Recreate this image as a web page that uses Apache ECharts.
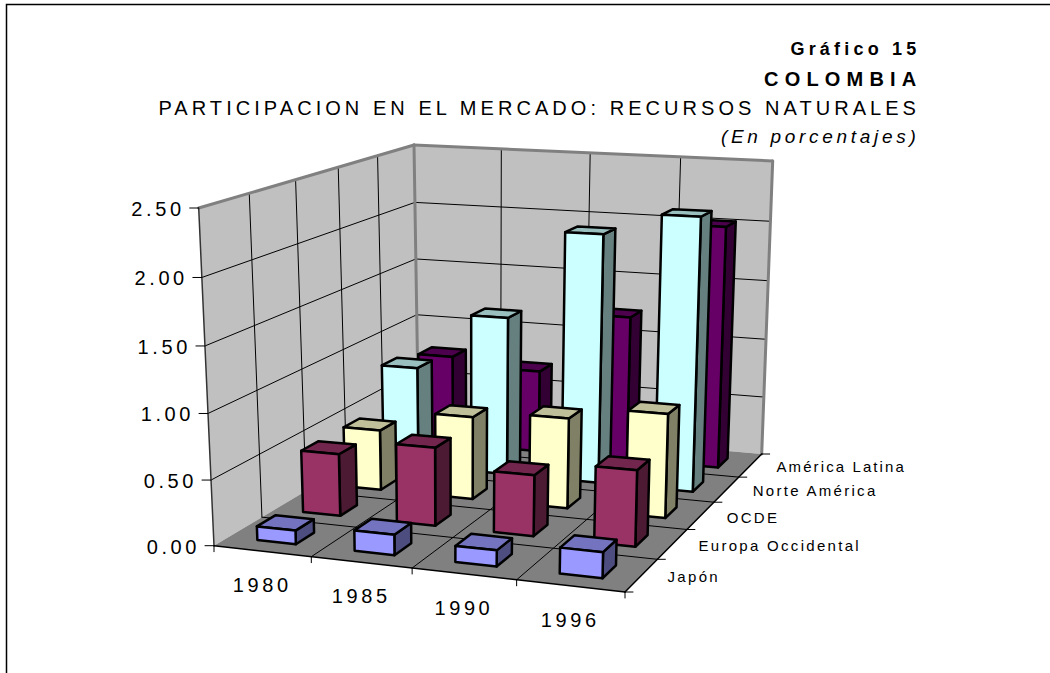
<!DOCTYPE html>
<html><head><meta charset="utf-8">
<style>html,body{margin:0;padding:0;background:#fff}#c{width:1050px;height:673px}</style>
<script src="https://cdn.jsdelivr.net/npm/echarts@6/dist/echarts.min.js"></script>
</head><body><div id="c"></div>
<script>
const categories = ['1980','1985','1990','1996'];
const depthLabels = ['Japón','Europa Occidental','OCDE','Norte América','América Latina'];
const valueTicks = [0,0.5,1,1.5,2,2.5];
const japon  = [0.105,0.155,0.12,0.19];
const europa = [0.49,0.61,0.47,0.58];
const ocde   = [0.49,0.665,0.72,0.82];
const norte  = [0.835,1.31,2.035,2.215];
const latina = [0.77,0.70,1.22,2.02];
const seriesValues = [japon,europa,ocde,norte,latina];
const seriesColors = ['#9999FF','#993366','#FFFFCC','#CCFFFF','#660066'];
const titleLines = ['Gráfico 15','COLOMBIA','PARTICIPACION EN EL MERCADO: RECURSOS NATURALES','(En porcentajes)'];

// Perspective of the 3D box: corners of floor and ceiling on screen
const floorQuad = [[214,545.7],[625,592],[761.7,454],[418.5,424]];
const topQuad   = [[198.7,208],[633,230.6],[772.7,161],[414,145]];
const K = 1.036, BAR = 0.4;
function homog(q){
  const [p0,p1,p2,p3]=q;
  const dx1=p1[0]-p2[0],dx2=p3[0]-p2[0],dx3=p0[0]-p1[0]+p2[0]-p3[0];
  const dy1=p1[1]-p2[1],dy2=p3[1]-p2[1],dy3=p0[1]-p1[1]+p2[1]-p3[1];
  const den=dx1*dy2-dx2*dy1, g=(dx3*dy2-dx2*dy3)/den, h=(dx1*dy3-dx3*dy1)/den;
  const a=p1[0]-p0[0]+g*p1[0], b=p3[0]-p0[0]+h*p3[0], d=p1[1]-p0[1]+g*p1[1], e=p3[1]-p0[1]+h*p3[1];
  return (u,w)=>{const n=g*u+h*w+1;return [(a*u+b*w+p0[0])/n,(d*u+e*w+p0[1])/n];};
}
const F=homog(floorQuad), T=homog(topQuad);
function P(u,w,t){
  const a=F(u,w), b=T(u,w), s=t/(t+(1-t)*K);
  return [a[0]+(b[0]-a[0])*s, a[1]+(b[1]-a[1])*s];
}
function shade(hex,f){
  const n=parseInt(hex.slice(1),16);
  const c=[n>>16,(n>>8)&255,n&255].map(v=>Math.round(v*f));
  return 'rgb('+c.join(',')+')';
}
const poly=(pts,fill,stroke,lw)=>({type:'polygon',shape:{points:pts},style:{fill:fill,stroke:stroke||null,lineWidth:lw||0,lineJoin:'round'}});
const line=(a,b,c,lw)=>({type:'line',shape:{x1:a[0],y1:a[1],x2:b[0],y2:b[1]},style:{stroke:c,lineWidth:lw,lineCap:'round',fill:null}});
const label=(x,y,text,size,align)=>({type:'text',style:{x:x,y:y,text:text,fill:'#000',font:size+'px "Liberation Sans"',align:align,verticalAlign:'middle'}});

// the box, drawn from the hidden axes' scales
function renderBox(params,api){
  const cs=params.coordSys, ch=[];
  const uOf=i=>(api.coord([i,0])[0]-api.size([1,0])[0]/2-cs.x)/cs.width;
  const tOf=v=>(cs.y+cs.height-api.coord([0,v])[1])/cs.height;
  const n=categories.length, m=depthLabels.length;
  ch.push(poly([P(0,0,0),P(0,1,0),P(0,1,1),P(0,0,1)],'#C0C0C0'));
  ch.push(poly([P(0,1,0),P(1,1,0),P(1,1,1),P(0,1,1)],'#C0C0C0'));
  ch.push(poly([P(0,0,0),P(1,0,0),P(1,1,0),P(0,1,0)],'#808080'));
  valueTicks.forEach(v=>{
    const t=tOf(v);
    if(v>0 && v<valueTicks[valueTicks.length-1]){
      ch.push(line(P(0,0,t),P(0,1,t),'#000',1));
      ch.push(line(P(0,1,t),P(1,1,t),'#000',1));
    }
  });
  for(let i=1;i<n;i++){
    const u=uOf(i);
    ch.push(line(P(u,1,0),P(u,1,1),'#000',1));
    ch.push(line(P(u,0,0),P(u,1,0),'#000',1));
  }
  for(let j=1;j<m;j++){
    const w=j/m;
    ch.push(line(P(0,w,0),P(0,w,1),'#000',1));
    ch.push(line(P(0,w,0),P(1,w,0),'#000',1));
  }
  // wall borders
  ch.push(line(P(0,0,1),P(0,1,1),'#808080',3));
  ch.push(line(P(0,1,1),P(1,1,1),'#808080',3));
  ch.push(line(P(0,1,0),P(0,1,1),'#808080',3));
  ch.push(line(P(1,1,0),P(1,1,1),'#808080',3));
  ch.push(line(P(0,0,0),P(0,0,1),'#333',1.5));
  ch.push(line(P(0,0,0),P(1,0,0),'#000',1.5));
  ch.push(line(P(1,0,0),P(1,1,0),'#000',1.5));
  // ticks + labels
  valueTicks.forEach(v=>{
    const p=P(0,0,tOf(v));
    ch.push(line(p,[p[0]-9,p[1]],'#000',1));
    ch.push(label(p[0]-14,p[1]+1,v.toFixed(2),20,'right'));
  });
  for(let i=0;i<=n;i++){
    const p=P(i<n?uOf(i):1,0,0);
    ch.push(line(p,[p[0],p[1]+6],'#000',1));
  }
  categories.forEach((c,i)=>{
    const p=P((uOf(i)+(i+1<n?uOf(i+1):1))/2,0,0);
    ch.push(label(p[0],p[1]+34,c,20,'center'));
  });
  for(let j=0;j<=m;j++){
    const p=P(1,j/m,0);
    ch.push(line(p,[p[0]+8,p[1]],'#000',1));
  }
  depthLabels.forEach((d,j)=>{
    const p=P(1,(j+.5)/m,0);
    ch.push(label(p[0]+26,p[1]+1.5,d,15,'left'));
  });
  return {type:'group',children:ch};
}
function renderBar(j){
  return function(params,api){
    const cs=params.coordSys, m=seriesValues.length;
    const c=api.coord([api.value(0),api.value(1)]), band=api.size([1,0])[0];
    const u0=(c[0]-band*BAR/2-cs.x)/cs.width, u1=(c[0]+band*BAR/2-cs.x)/cs.width;
    const w0=(j+.5-BAR/2)/m, w1=(j+.5+BAR/2)/m;
    const t=(cs.y+cs.height-c[1])/cs.height;
    const col=seriesColors[j];
    return {type:'group',children:[
      poly([P(u1,w0,0),P(u1,w1,0),P(u1,w1,t),P(u1,w0,t)],shade(col,.5),'#000',2.5),
      poly([P(u0,w0,t),P(u1,w0,t),P(u1,w1,t),P(u0,w1,t)],shade(col,.75),'#000',2.5),
      poly([P(u0,w0,0),P(u1,w0,0),P(u1,w0,t),P(u0,w0,t)],col,'#000',2.5)
    ]};
  };
}
const barSeries=depthLabels.map((name,j)=>({
  name:name,type:'custom',coordinateSystem:'cartesian2d',clip:false,silent:true,
  renderItem:renderBar(j),encode:{x:0,y:1},
  data:categories.map((c,i)=>[i,seriesValues[j][i]])
})).reverse();
const chart=echarts.init(document.getElementById('c'),null,{renderer:'svg',width:1050,height:673});
const tt=(text,right,top,size,weight,style)=>({text:text,left:right,top:top,textAlign:'right',
  textStyle:{fontFamily:'Liberation Sans',fontSize:size,fontWeight:weight,fontStyle:style,color:'#000'},padding:0});
chart.setOption({
  animation:false,backgroundColor:'#fff',
  title:[tt(titleLines[0],920.5,40,18,'bold','normal'),tt(titleLines[1],922.5,69,20,'bold','normal'),
         tt(titleLines[2],920,98,20,'normal','normal'),tt(titleLines[3],919.5,127,19,'normal','italic')],
  grid:{left:200,top:150,width:400,height:300,containLabel:false},
  xAxis:{type:'category',data:categories,show:false},
  yAxis:{type:'value',min:0,max:2.5,interval:0.5,show:false},
  graphic:[{type:'polyline',shape:{points:[[6.5,673],[6.5,4.5],[1050,4.5]]},style:{stroke:'#000',lineWidth:1.5,fill:null},silent:true}],
  series:[{name:'box',type:'custom',coordinateSystem:'cartesian2d',clip:false,silent:true,renderItem:renderBox,encode:{x:0,y:1},data:[[0,0]]}].concat(barSeries)
});
// letter spacing of the original typesetting
const spacing={};
spacing[titleLines[0]]=4.2;spacing[titleLines[1]]=6.2;spacing[titleLines[2]]=4.05;spacing[titleLines[3]]=3.7;
depthLabels.forEach(d=>spacing[d]=2.3);
spacing['América Latina']=2.1;
document.querySelectorAll('#c text').forEach(el=>{
  const s=spacing[el.textContent];
  el.style.letterSpacing=(s===undefined?3.6:s)+'px';
});
</script></body></html>
